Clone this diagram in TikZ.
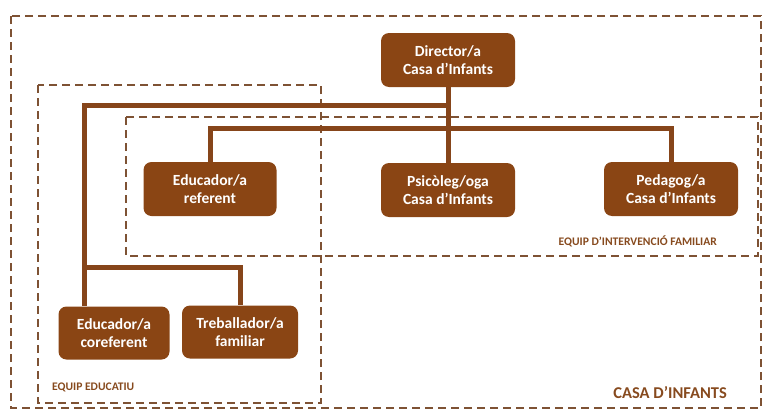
\documentclass[tikz,border=0pt]{standalone}
\usepackage{fontspec}
\setmainfont{Carlito}
\definecolor{boxbrown}{HTML}{8A4514}
\definecolor{linebrown}{HTML}{86451A}
\definecolor{dashbrown}{HTML}{7E5234}
\definecolor{labbrown}{HTML}{874A1E}
\begin{document}
\begin{tikzpicture}[x=1pt,y=-1pt,
  role/.style={draw=none,fill=boxbrown,rounded corners=8pt,text=white,
    font=\bfseries\fontsize{15.5}{17.5}\selectfont,align=center,
    minimum height=54pt,inner sep=0pt},
  link/.style={draw=linebrown,line width=5pt},
  group/.style={draw=dashbrown,line width=1.6pt,dash pattern=on 8pt off 5pt},
  grouplabel/.style={text=labbrown,font=\bfseries\fontsize{11.6}{13}\selectfont,inner sep=0pt},
]
\useasboundingbox (0,0) rectangle (765,415);
% groups
\draw[group] (11,16) rectangle (761,408);
\draw[group] (38,85) rectangle (321,403);
\draw[group] (126,117) rectangle (758,256);
% nodes
\node[role,minimum width=134pt] (dir) at (448,60) {Director/a\\Casa d’Infants};
\node[role,minimum width=133pt] (ref) at (210,189) {Educador/a\\referent};
\node[role,minimum width=134pt] (psi) at (448,190) {Psicòleg/oga\\Casa d’Infants};
\node[role,minimum width=134pt] (ped) at (671,189) {Pedagog/a\\Casa d’Infants};
\node[role,minimum width=111pt,minimum height=53pt] (cor) at (114,333) {Educador/a\\coreferent};
\node[role,minimum width=116pt,minimum height=53pt] (tre) at (240,332) {Treballador/a\\familiar};
% junctions
\coordinate (busA) at (84,105);
\coordinate (busB) at (0,128);
\coordinate (busC) at (0,267);
% connectors
\draw[link] (dir.south) -- (psi.north);
\draw[link] (dir.south |- busA) -- (busA) -- (busA |- cor.north);
\draw[link] (busA |- busC) -| (tre.north);
\draw[link] (ref.north) |- (busB -| ped.north) -- (ped.north);
% labels
\node[grouplabel,anchor=east] (eif) at (717,241) {EQUIP D’INTERVENCIÓ FAMILIAR};
\node[grouplabel,anchor=west] (ee) at (52,387) {EQUIP EDUCATIU};
\node[grouplabel,anchor=east,font=\bfseries\fontsize{16.5}{18}\selectfont] (ci) at (727,393) {CASA D’INFANTS};
\end{tikzpicture}
\end{document}
